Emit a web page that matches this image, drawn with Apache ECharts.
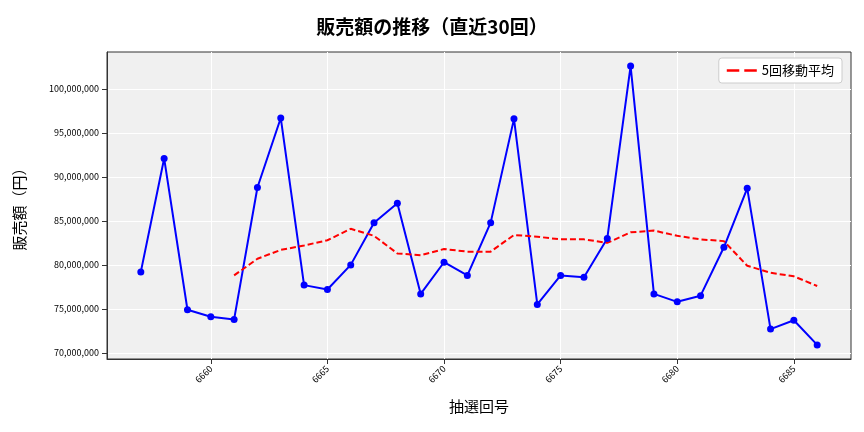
<!DOCTYPE html>
<html>
<head>
<meta charset="utf-8">
<script src="https://cdn.jsdelivr.net/npm/echarts@6/dist/echarts.min.js"></script>
<style>html,body{margin:0;padding:0;background:#fff}#chart{width:864px;height:432px}</style>
</head>
<body>
<div id="chart"></div>
<script>
// draw numbers (抽選回号)
const draws = [6657, 6658, 6659, 6660, 6661, 6662, 6663, 6664, 6665, 6666,
	6667, 6668, 6669, 6670, 6671, 6672, 6673, 6674, 6675, 6676,
	6677, 6678, 6679, 6680, 6681, 6682, 6683, 6684, 6685, 6686];
// sales in millions of yen
const sales = [79.2, 92.1, 74.9, 74.1, 73.8, 88.8, 96.7, 77.7, 77.2, 80.0,
	84.8, 87.0, 76.7, 80.3, 78.8, 84.8, 96.6, 75.5, 78.8, 78.6,
	83.0, 102.6, 76.7, 75.8, 76.5, 82.0, 88.7, 72.7, 73.7, 70.9];
// 5-draw moving average, starts at 6661
const maDraws = draws.slice(4);
const movingAvg = [78.8, 80.7, 81.7, 82.2, 82.8, 84.1, 83.3, 81.3, 81.1, 81.8,
	81.5, 81.5, 83.4, 83.2, 82.9, 82.9, 82.5, 83.7, 83.9, 83.3,
	82.9, 82.7, 79.9, 79.1, 78.7, 77.6];
const xTicks = [6660, 6665, 6670, 6675, 6680, 6685];
const yTicks = [70, 75, 80, 85, 90, 95, 100].map(v => v * 1e6);

const FONT = '"Noto Sans CJK JP", "DejaVu Sans", sans-serif';
const M = 1e6;

let chart = echarts.init(document.getElementById('chart'));
chart.setOption({
	textStyle: { fontFamily: FONT },
	title: {
		text: '販売額の推移（直近30回）', left: 'center', top: 12,
		textStyle: { fontFamily: FONT, fontSize: 19, fontWeight: 'bold', color: '#000' }
	},
	grid: { left: 107, right: 13, top: 52, bottom: 73, backgroundColor: '#f0f0f0', show: true, borderWidth: 1, borderColor: '#333' },
	legend: {
		right: 22, top: 58, itemWidth: 30, itemHeight: 10,
		backgroundColor: '#fff', borderColor: '#ccc', borderWidth: 1, borderRadius: 3, padding: [6, 8],
		textStyle: { fontFamily: FONT, fontSize: 13, color: '#000' },
		data: [{ name: '5回移動平均', icon: 'path://M0,4 L10,4 L10,6 L0,6 Z M14,4 L24,4 L24,6 L14,6 Z' }]
	},
	xAxis: {
		type: 'value', min: 6655.55, max: 6687.45,
		name: '抽選回号', nameLocation: 'middle', nameGap: 40,
		nameTextStyle: { fontFamily: FONT, fontSize: 15, color: '#000' },
		axisLine: { show: true, lineStyle: { color: '#333' } },
		axisTick: { show: true, customValues: xTicks, lineStyle: { color: '#333' } },
		axisLabel: { customValues: xTicks, rotate: 45, fontSize: 9, color: '#000', formatter: v => String(v) },
		splitLine: { show: true, lineStyle: { color: '#fff', width: 1 } }
	},
	yAxis: {
		type: 'value', min: 69.3 * M, max: 104.2 * M,
		name: '販売額（円）', nameLocation: 'middle', nameGap: 80,
		nameTextStyle: { fontFamily: FONT, fontSize: 15, color: '#000' },
		axisLine: { show: true, lineStyle: { color: '#333' } },
		axisTick: { show: true, customValues: yTicks, lineStyle: { color: '#333' } },
		axisLabel: { customValues: yTicks, fontSize: 9, color: '#000', formatter: v => Math.round(v).toLocaleString('en-US') },
		splitLine: { show: true, lineStyle: { color: '#fff', width: 1 } }
	},
	series: [
		{
			name: '販売額', type: 'line',
			data: draws.map((d, i) => [d, sales[i] * M]),
			symbol: 'circle', symbolSize: 7,
			lineStyle: { color: '#0000ff', width: 2 },
			itemStyle: { color: '#0000ff' }
		},
		{
			name: '5回移動平均', type: 'line',
			data: maDraws.map((d, i) => [d, movingAvg[i] * M]),
			symbol: 'none',
			lineStyle: { color: '#ff0000', width: 2, type: [6, 3] },
			itemStyle: { color: '#ff0000' }
		}
	],
	animation: false
});
</script>
</body>
</html>
